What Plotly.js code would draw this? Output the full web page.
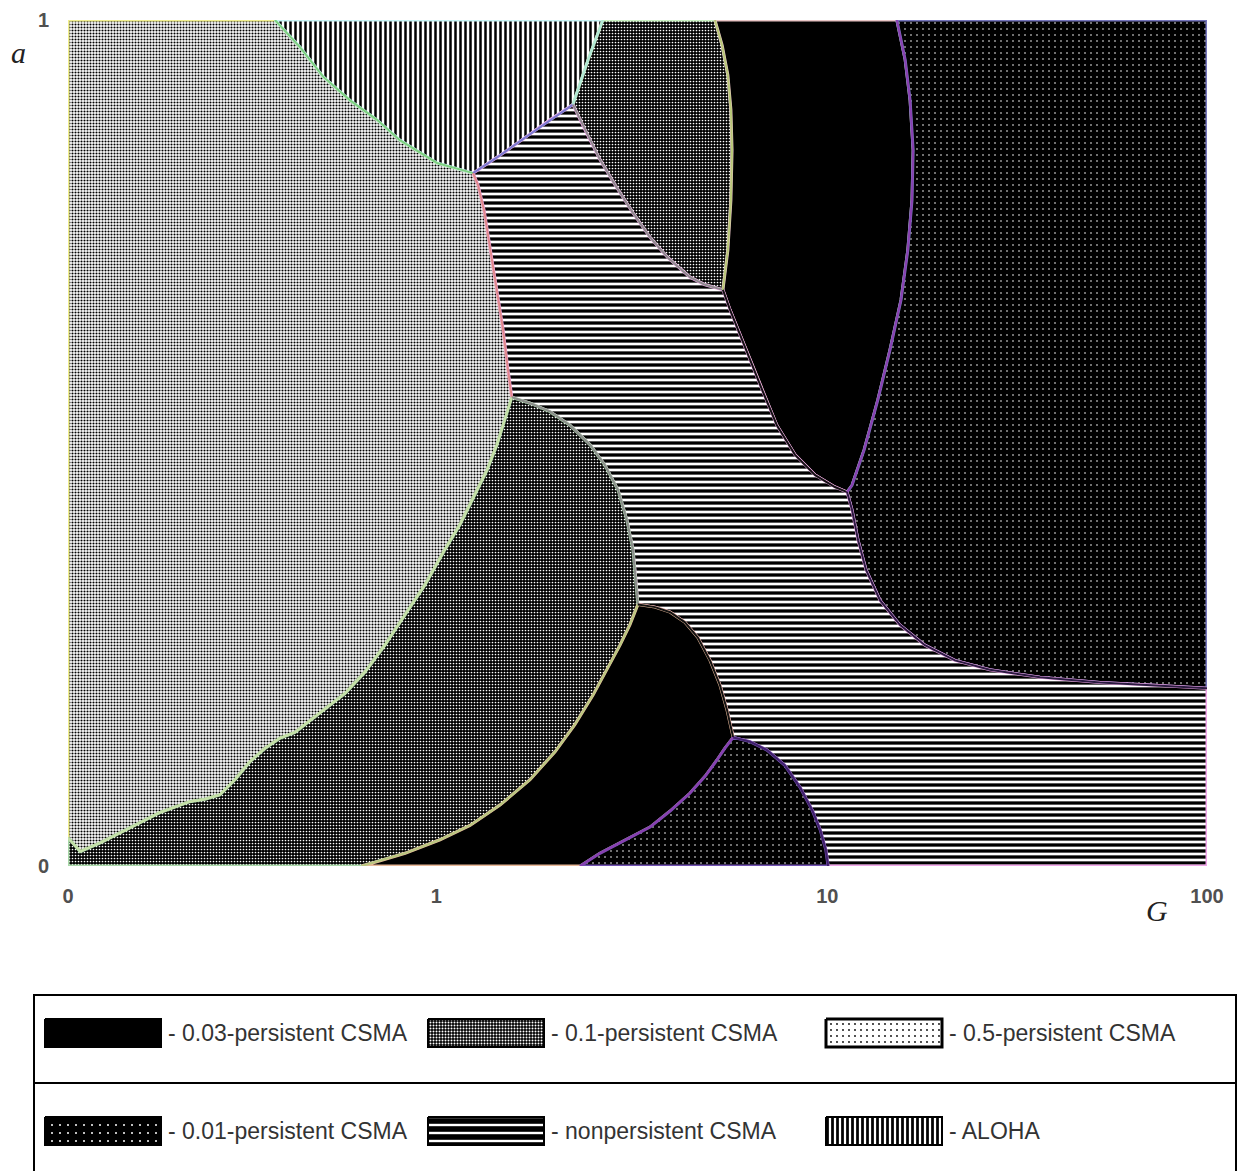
<!DOCTYPE html>
<html><head><meta charset="utf-8">
<script src="https://cdn.plot.ly/plotly-3.0.1.min.js"></script>
<style>html,body{margin:0;padding:0;background:#fff}</style>
</head><body><div id="chart" style="width:1250px;height:1171px"></div>
<script>
// Axis values: x in decades of G (0 -> "0", 1 -> "1", 2 -> "10", 3 -> "100"), y = a
const X0 = 0, X1 = 3, Y0 = 0, Y1 = 1;
const tickValsX = [0, 0.97, 2, 3];
const tickTextX = ['0', '1', '10', '100'];
const tickValsY = [0, 1];
const tickTextY = ['0', '1'];

// Boundary curves between regions
const cAB_x = [0.545, 0.611, 0.672, 0.743, 0.814, 0.874, 0.972, 1.067];
const cAB_y = [1, 0.968, 0.933, 0.905, 0.882, 0.858, 0.831, 0.819];
const cBF_x = [1.067, 1.138, 1.204, 1.270, 1.330];
const cBF_y = [0.819, 0.840, 0.861, 0.882, 0.900];
const cBC_x = [1.330, 1.370, 1.409];
const cBC_y = [0.900, 0.953, 1];
const cAF_x = [1.067, 1.080, 1.096, 1.112, 1.130, 1.146, 1.159, 1.169];
const cAF_y = [0.819, 0.805, 0.775, 0.728, 0.681, 0.634, 0.586, 0.554];
const cCF_x = [1.330, 1.362, 1.401, 1.441, 1.488, 1.533, 1.580, 1.638, 1.678, 1.725];
const cCF_y = [0.900, 0.870, 0.835, 0.805, 0.772, 0.743, 0.719, 0.696, 0.687, 0.681];
const cCD_x = [1.704, 1.723, 1.738, 1.746, 1.749, 1.746, 1.738, 1.725];
const cCD_y = [1, 0.970, 0.935, 0.894, 0.846, 0.787, 0.728, 0.681];
const cDF_x = [1.725, 1.744, 1.770, 1.796, 1.828, 1.867, 1.915, 1.968, 2.020, 2.052];
const cDF_y = [0.681, 0.657, 0.628, 0.598, 0.563, 0.521, 0.486, 0.462, 0.448, 0.442];
const cDE_x = [2.183, 2.205, 2.218, 2.226, 2.223, 2.212, 2.194, 2.165, 2.133, 2.097, 2.065, 2.052];
const cDE_y = [1, 0.953, 0.905, 0.846, 0.787, 0.728, 0.669, 0.610, 0.551, 0.492, 0.450, 0.442];
const cEF_x = [2.052, 2.065, 2.081, 2.102, 2.139, 2.191, 2.257, 2.336, 2.428, 2.560, 2.718, 2.850, 3];
const cEF_y = [0.442, 0.421, 0.385, 0.350, 0.314, 0.285, 0.261, 0.243, 0.232, 0.223, 0.217, 0.214, 0.210];
const cAG_x = [1.169, 1.151, 1.130, 1.104, 1.072, 1.032, 0.993, 0.940, 0.888, 0.835, 0.782, 0.730, 0.664,
               0.598, 0.558, 0.519, 0.479, 0.440, 0.400, 0.361, 0.321, 0.242, 0.155, 0.084, 0.032, 0.005, 0];
const cAG_y = [0.554, 0.527, 0.498, 0.468, 0.439, 0.403, 0.374, 0.332, 0.297, 0.261, 0.229, 0.204, 0.181,
               0.158, 0.151, 0.139, 0.123, 0.102, 0.084, 0.079, 0.076, 0.063, 0.043, 0.027, 0.017, 0.031, 0.033];
const cGF_x = [1.169, 1.217, 1.270, 1.322, 1.375, 1.414, 1.449, 1.472, 1.488, 1.496, 1.501];
const cGF_y = [0.554, 0.547, 0.537, 0.521, 0.498, 0.474, 0.444, 0.409, 0.374, 0.338, 0.309];
const cGH_x = [1.501, 1.480, 1.454, 1.422, 1.383, 1.335, 1.283, 1.217, 1.138, 1.059, 0.980, 0.888, 0.822, 0.774];
const cGH_y = [0.309, 0.285, 0.261, 0.234, 0.202, 0.167, 0.135, 0.102, 0.072, 0.048, 0.031, 0.015, 0.006, 0];
const cHF_x = [1.501, 1.546, 1.586, 1.625, 1.659, 1.691, 1.717, 1.736, 1.752];
const cHF_y = [0.309, 0.306, 0.300, 0.288, 0.270, 0.243, 0.214, 0.184, 0.152];
const cHI_x = [1.752, 1.730, 1.709, 1.678, 1.638, 1.586, 1.533, 1.467, 1.401, 1.349];
const cHI_y = [0.152, 0.139, 0.125, 0.106, 0.086, 0.065, 0.046, 0.030, 0.015, 0];
const cIF_x = [1.752, 1.796, 1.841, 1.888, 1.928, 1.960, 1.981, 1.996, 2.002];
const cIF_y = [0.152, 0.147, 0.137, 0.119, 0.093, 0.066, 0.043, 0.019, 0];

// Legend entries
const legendKeys = ['p003', 'p01', 'p05', 'p001', 'nonp', 'aloha'];
const legendNames = ['0.03-persistent CSMA', '0.1-persistent CSMA', '0.5-persistent CSMA',
                     '0.01-persistent CSMA', 'nonpersistent CSMA', 'ALOHA'];

// ---------- styles ----------
const STY = {
  p003: {fill: '#000000', pat: null},
  p01:  {fill: '#000000', pat: {shape: '.', bgcolor: '#000000', fgcolor: '#ffffff', size: 3, solidity: 0.25}},
  p05:  {fill: '#ffffff', pat: {shape: '.', bgcolor: '#ffffff', fgcolor: '#000000', size: 3, solidity: 0.4}},
  p001: {fill: '#000000', pat: {shape: '.', bgcolor: '#000000', fgcolor: '#ffffff', size: 6, solidity: 0.06}},
  nonp: {fill: '#ffffff', pat: {shape: '-', bgcolor: '#ffffff', fgcolor: '#000000', size: 6, solidity: 0.55}},
  aloha:{fill: '#ffffff', pat: {shape: '|', bgcolor: '#ffffff', fgcolor: '#000000', size: 5, solidity: 0.5}}
};
const LEG_STY = {
  p003: {fill: '#000000', pat: null, lw: 2},
  p01:  {fill: '#000000', pat: {shape: '.', bgcolor: '#000000', fgcolor: '#ffffff', size: 3, solidity: 0.35}, lw: 2},
  p05:  {fill: '#ffffff', pat: {shape: '.', bgcolor: '#ffffff', fgcolor: '#000000', size: 6, solidity: 0.07}, lw: 3},
  p001: {fill: '#000000', pat: {shape: '.', bgcolor: '#000000', fgcolor: '#ffffff', size: 8, solidity: 0.05}, lw: 2},
  nonp: {fill: '#000000', pat: {shape: '-', bgcolor: '#000000', fgcolor: '#ffffff', size: 8, solidity: 0.3}, lw: 2},
  aloha:{fill: '#ffffff', pat: {shape: '|', bgcolor: '#ffffff', fgcolor: '#000000', size: 5, solidity: 0.55}, lw: 2}
};

function seg(x, y) { return {x: x, y: y}; }
function rev(s) { return {x: s.x.slice().reverse(), y: s.y.slice().reverse()}; }
function poly(parts) {
  const x = [], y = [];
  parts.forEach(p => { x.push(...p.x); y.push(...p.y); });
  x.push(x[0]); y.push(y[0]);
  return {x, y};
}

const AB = seg(cAB_x, cAB_y), BF = seg(cBF_x, cBF_y), BC = seg(cBC_x, cBC_y),
      AF = seg(cAF_x, cAF_y), CF = seg(cCF_x, cCF_y), CD = seg(cCD_x, cCD_y),
      DF = seg(cDF_x, cDF_y), DE = seg(cDE_x, cDE_y), EF = seg(cEF_x, cEF_y),
      AG = seg(cAG_x, cAG_y), GF = seg(cGF_x, cGF_y), GH = seg(cGH_x, cGH_y),
      HF = seg(cHF_x, cHF_y), HI = seg(cHI_x, cHI_y), IF = seg(cIF_x, cIF_y);

const regions = [
  {key: 'p05',  edge: '#f0ee8c', shape: poly([seg([X0], [Y1]), AB, AF, AG])},
  {key: 'aloha',edge: '#c4f2f4', shape: poly([AB, BF, BC])},
  {key: 'p01',  edge: '#c8f0c0', shape: poly([BC, CD, rev(CF)])},
  {key: 'p003', edge: '#e8c4c4', shape: poly([CD, DF, rev(DE)])},
  {key: 'p001', edge: '#7474bc', shape: poly([DE, EF, seg([X1], [Y1])])},
  {key: 'nonp', edge: '#f0a4e8', shape: poly([AF, GF, HF, IF, seg([X1], [Y0]), rev(EF), rev(DF), rev(CF), rev(BF)])},
  {key: 'p01',  edge: '#a8d8a8', shape: poly([GF, GH, seg([X0], [Y0]), rev(AG)])},
  {key: 'p003', edge: '#e8b898', shape: poly([HF, HI, rev(GH)])},
  {key: 'p001', edge: '#7050b0', shape: poly([HI, rev(IF)])}
];

const boundaries = [
  [AB, '#7fd07f'], [BF, '#7a7ad0'], [BC, '#b0e8d8'], [AF, '#e08a8a'],
  [CF, '#8c8c8c'], [CD, '#b8c878'], [DF, '#111111'], [DE, '#8a3fb0'],
  [EF, '#2a1a40'], [AG, '#c8e0a8'], [GF, '#8c8c8c'], [GH, '#b8c880'],
  [HF, '#111111'], [HI, '#8a3fb0'], [IF, '#40206a']
];

const traces = [];
regions.forEach(r => {
  const s = STY[r.key];
  const t = {type: 'scatter', mode: 'lines', x: r.shape.x, y: r.shape.y,
    fill: 'toself', fillcolor: s.fill, line: {color: r.edge, width: 3},
    hoverinfo: 'skip', xaxis: 'x', yaxis: 'y'};
  if (s.pat) t.fillpattern = Object.assign({fillmode: 'replace'}, s.pat);
  traces.push(t);
});
boundaries.forEach(b => {
  traces.push({type: 'scatter', mode: 'lines', x: b[0].x, y: b[0].y,
    line: {color: b[1], width: 2}, hoverinfo: 'skip', xaxis: 'x', yaxis: 'y'});
});

// ---------- custom legend (pixel-like coordinates on x2/y2) ----------
const W = 1250, H = 1171;
const colLeft = [45, 428, 826], rowMid = [1033, 1131], swW = 116, swH = 28;
const annotations = [];
legendKeys.forEach((k, i) => {
  const s = LEG_STY[k];
  const x0 = colLeft[i % 3], yc = rowMid[Math.floor(i / 3)];
  const t = {type: 'scatter', mode: 'lines',
    x: [x0, x0 + swW, x0 + swW, x0, x0],
    y: [yc - swH / 2, yc - swH / 2, yc + swH / 2, yc + swH / 2, yc - swH / 2],
    fill: 'toself', fillcolor: s.fill, line: {color: '#000', width: s.lw},
    hoverinfo: 'skip', xaxis: 'x2', yaxis: 'y2'};
  if (s.pat) t.fillpattern = Object.assign({fillmode: 'replace'}, s.pat);
  traces.push(t);
  annotations.push({xref: 'x2', yref: 'y2', x: x0 + swW + 5, y: yc, xanchor: 'left', yanchor: 'middle',
    text: '- ' + legendNames[i], showarrow: false,
    font: {family: 'Liberation Sans, Arial, sans-serif', size: 23, color: '#333'}});
});

annotations.push({xref: 'paper', yref: 'paper', x: 18 / W, y: 1 - 52 / H, text: '<i>a</i>',
  showarrow: false, xanchor: 'center', yanchor: 'middle',
  font: {family: 'Liberation Serif, Times New Roman, serif', size: 30, color: '#222'}});
annotations.push({xref: 'paper', yref: 'paper', x: 1157 / W, y: 1 - 910 / H, text: '<i>G</i>',
  showarrow: false, xanchor: 'center', yanchor: 'middle',
  font: {family: 'Liberation Serif, Times New Roman, serif', size: 30, color: '#222'}});

const tickFont = {family: 'Liberation Sans, Arial, sans-serif', size: 20, color: '#505050', weight: 'bold'};
const layout = {
  width: W, height: H, autosize: false,
  margin: {l: 0, r: 0, t: 0, b: 0, pad: 0},
  paper_bgcolor: '#ffffff', plot_bgcolor: 'rgba(0,0,0,0)',
  showlegend: false, hovermode: false,
  xaxis: {domain: [68 / W, 1207 / W], range: [X0, X1], anchor: 'y',
    showgrid: false, zeroline: false, showline: false, ticks: '',
    tickmode: 'array', tickvals: tickValsX, ticktext: tickTextX, tickfont: tickFont,
    ticklabelstandoff: 16, fixedrange: true},
  yaxis: {domain: [1 - 866 / H, 1 - 20 / H], range: [Y0, Y1], anchor: 'x',
    showgrid: false, zeroline: false, showline: false, ticks: '',
    tickmode: 'array', tickvals: tickValsY, ticktext: tickTextY, tickfont: tickFont,
    ticklabelstandoff: 18, fixedrange: true},
  xaxis2: {domain: [0, 1], range: [0, W], anchor: 'y2', visible: false, fixedrange: true},
  yaxis2: {domain: [0, (H - 985) / H], range: [H, 985], anchor: 'x2', visible: false, fixedrange: true},
  shapes: [
    {type: 'rect', xref: 'x2', yref: 'y2', x0: 34, x1: 1236, y0: 995, y1: 1185,
      line: {color: '#000', width: 2}, fillcolor: 'rgba(0,0,0,0)', layer: 'below'},
    {type: 'line', xref: 'x2', yref: 'y2', x0: 34, x1: 1236, y0: 1083, y1: 1083,
      line: {color: '#000', width: 2}}
  ],
  annotations: annotations
};

Plotly.newPlot('chart', traces, layout, {staticPlot: true, displayModeBar: false});
</script>
</body></html>
